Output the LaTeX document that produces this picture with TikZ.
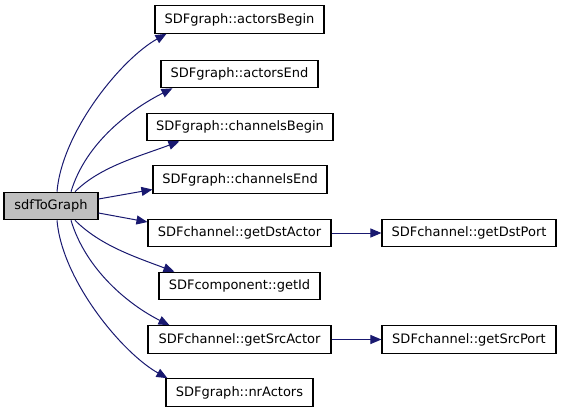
\documentclass[tikz,border=0pt]{standalone}
\usepackage{fontspec}
\setmainfont{DejaVu Sans}
\usetikzlibrary{arrows.meta}
\definecolor{edgeblue}{HTML}{191970}
\begin{document}
\begin{tikzpicture}[x=1pt,y=-1pt,
  box/.style={draw=black,line width=1.1pt,fill=white,inner sep=0pt,minimum height=27.5pt,font=\fontsize{13pt}{15pt}\selectfont},
  edge/.style={draw=edgeblue,line width=1pt,-{Triangle[length=11pt,width=9pt]}}]
\useasboundingbox (0,0) rectangle (563,413);
\node[box,fill={rgb,255:red,191;green,191;blue,191},minimum width=94pt] (s) at (51,206) {sdfToGraph};
\node[box,minimum width=169pt] (ab) at (239.5,19.5) {SDFgraph::actorsBegin};
\node[box,minimum width=157pt] (ae) at (239.5,74) {SDFgraph::actorsEnd};
\node[box,minimum width=186pt] (cb) at (240,127) {SDFgraph::channelsBegin};
\node[box,minimum width=174pt] (ce) at (240,179.5) {SDFgraph::channelsEnd};
\node[box,minimum width=183pt] (gda) at (239.5,233) {SDFchannel::getDstActor};
\node[box,minimum width=161pt] (gid) at (239.5,286) {SDFcomponent::getId};
\node[box,minimum width=183pt] (gsa) at (239.5,339.5) {SDFchannel::getSrcActor};
\node[box,minimum width=147pt] (nr) at (239.5,392.5) {SDFgraph::nrActors};
\node[box,minimum width=174pt] (gdp) at (469,233) {SDFchannel::getDstPort};
\node[box,minimum width=174pt] (gsp) at (469,339.5) {SDFchannel::getSrcPort};
\draw[edge] ([xshift=6pt]s.north) .. controls +(5,-60) and +(-45,25) .. ([xshift=12pt]ab.south west);
\draw[edge] ([xshift=20pt]s.north) .. controls +(15,-50) and +(-40,20) .. ([xshift=12pt]ae.south west);
\draw[edge] ([xshift=24pt]s.north) .. controls +(25,-25) and +(-40,15) .. ([xshift=33pt]cb.south west);
\draw[edge] ([yshift=7pt]s.east) -- ([yshift=-10pt]ce.west);
\draw[edge] ([yshift=-7pt]s.east) -- ([yshift=11pt]gda.west);
\draw[edge] ([xshift=24pt]s.south) .. controls +(25,25) and +(-40,-15) .. ([xshift=16pt]gid.north west);
\draw[edge] ([xshift=20pt]s.south) .. controls +(15,50) and +(-40,-20) .. ([xshift=22pt]gsa.north west);
\draw[edge] ([xshift=6pt]s.south) .. controls +(5,60) and +(-45,-25) .. ([xshift=2pt]nr.north west);
\draw[edge] (gda) -- (gdp);
\draw[edge] (gsa) -- (gsp);
\end{tikzpicture}
\end{document}
